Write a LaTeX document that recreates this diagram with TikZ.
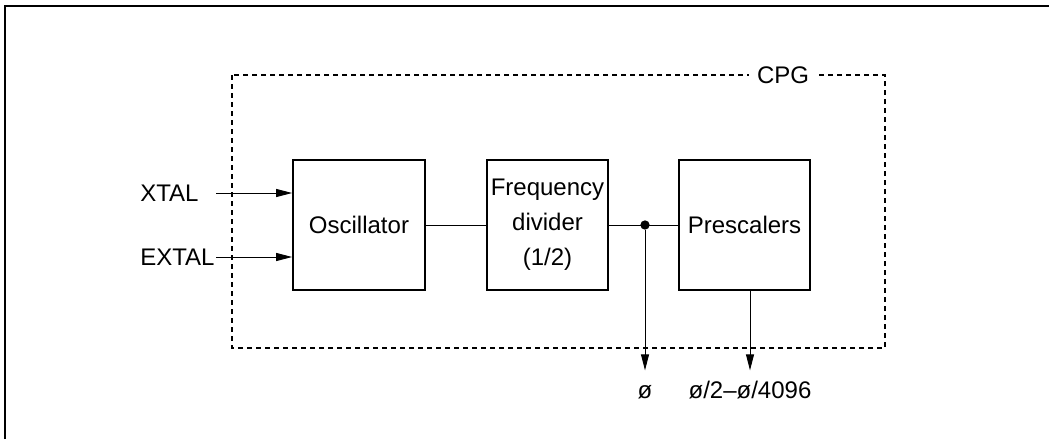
\documentclass[tikz,border=0pt]{standalone}
\usepackage{fontspec}
\setmainfont{Liberation Sans}
\usetikzlibrary{arrows.meta}
\begin{document}
\begin{tikzpicture}
[x=0.75pt,y=-0.75pt,font=\fontsize{18}{26.25}\selectfont,
 every node/.style={inner sep=0pt},
 block/.style={rectangle,draw=black,line width=1.3pt,minimum height=97.5pt,align=center},
 wire/.style={line width=0.7pt},
 arr/.style={wire,-{Triangle[length=12pt,width=6pt]}},
 outlabel/.style={anchor=base,text height=12.75pt,outer ysep=8pt}]
\useasboundingbox (0,0) rectangle (1049,439);
\draw [line width=1.5pt] (5,439) -- (5,6) -- (1049,6);
% CPG frame
\draw [line width=2.2pt,dash pattern=on 3.75pt off 3pt] (232,75) rectangle (885,348);
\node [fill=white,inner xsep=6pt,inner ysep=2pt] (0) at (783,75) {CPG};
\node [block,minimum width=99pt] (1) at (359,225) {Oscillator};
\node [block,minimum width=90.75pt] (2) at (547.5,225) {Frequency\\divider\\(1/2)};
\node [block,minimum width=98.25pt] (3) at (744.5,225) {Prescalers};
\node [anchor=west] (4) at (140,193) {XTAL};
\node [anchor=west] (5) at (140,257) {EXTAL};
\coordinate (a) at (216,193);
\coordinate (b) at (216,257);
\node [circle,fill=black,minimum size=7pt] (6) at (645,225) {};
\node [outlabel] (7) at (645,398) {ø};
\node [outlabel] (8) at (750,398) {ø/2–ø/4096};
\draw [arr] (a) to (1.west |- a);
\draw [arr] (b) to (1.west |- b);
\draw [wire] (1) to (2) to (3);
\draw [arr] (6) to (7);
\draw [arr] (3.south -| 8.north) to (8.north);
\end{tikzpicture}
\end{document}
